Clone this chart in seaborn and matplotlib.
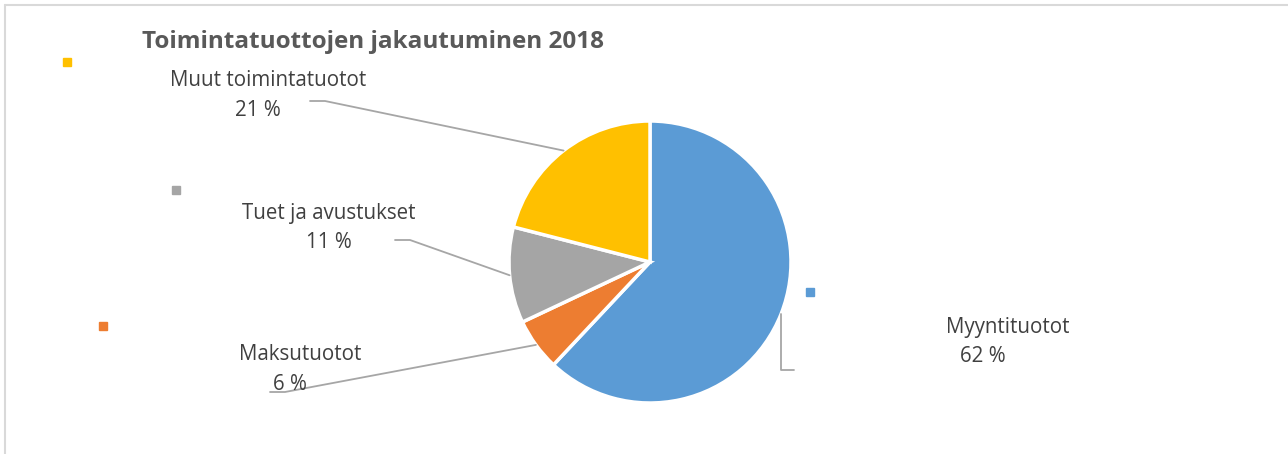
import numpy as np
import seaborn as sns
import matplotlib.pyplot as plt

# data
categories = ["Myyntituotot", "Maksutuotot", "Tuet ja avustukset", "Muut toimintatuotot"]
shares = [62, 6, 11, 21]
colors = ["#5B9BD5", "#ED7D31", "#A5A5A5", "#FFC000"]
title = "Toimintatuottojen jakautuminen 2018"

sns.set_style("white")
plt.rcParams['font.family'] = ['Open Sans', 'DejaVu Sans']

W, H = 1288, 454
fig = plt.figure(figsize=(W / 100, H / 100), dpi=100)
ax = fig.add_axes([0, 0, 1, 1])

def Y(y):
    # pixel row -> data y
    return H - y

cx, cy, r = 650, Y(262), 141
wedges, _ = ax.pie(shares, colors=colors, startangle=90, counterclock=False,
                   center=(cx, cy), radius=r,
                   wedgeprops=dict(edgecolor="white", linewidth=2.5))
ax.set_xlim(0, W)
ax.set_ylim(0, H)
ax.set_aspect("equal")
ax.axis("off")

# name centre, value centre, legend square, leader start (pixels)
name_pos = {
    "Myyntituotot": (1008, 328),
    "Maksutuotot": (300, 355),
    "Tuet ja avustukset": (329, 214),
    "Muut toimintatuotot": (268, 81),
}
value_pos = {
    "Myyntituotot": (983, 357),
    "Maksutuotot": (290, 384),
    "Tuet ja avustukset": (329, 243),
    "Muut toimintatuotot": (258, 111),
}
square_pos = {
    "Myyntituotot": (810, 292),
    "Maksutuotot": (103, 326),
    "Tuet ja avustukset": (176, 190),
    "Muut toimintatuotot": (67, 62),
}
line_start = {
    "Maksutuotot": (270, 392),
    "Tuet ja avustukset": (395, 240),
    "Muut toimintatuotot": (310, 101),
}

lc = "#A6A6A6"
for w, name, val, col in zip(wedges, categories, shares, colors):
    mid = np.deg2rad((w.theta1 + w.theta2) / 2)
    ex, ey = cx + r * np.cos(mid), cy + r * np.sin(mid)
    nx, ny = name_pos[name]
    vx, vy = value_pos[name]
    ax.text(nx, Y(ny), name, ha="center", va="center", fontsize=14.8, color="#404040")
    ax.text(vx, Y(vy), f"{val} %", ha="center", va="center", fontsize=14.8, color="#404040")
    sx, sy = square_pos[name]
    ax.plot(sx, Y(sy), marker="s", ms=5.5, color=col, ls="none")
    if name == "Myyntituotot":
        ax.plot([ex, ex, ex + 13], [ey, Y(370), Y(370)], color=lc, lw=1.3)
    else:
        lx, ly = line_start[name]
        ax.plot([lx, lx + 15, ex], [Y(ly), Y(ly), ey], color=lc, lw=1.3)

ax.text(142, Y(42), title, ha="left", va="center", fontsize=17.5,
        fontweight="bold", color="#595959")

# chart frame (top and left visible)
ax.plot([5, W], [Y(5), Y(5)], color="#D9D9D9", lw=1.5, clip_on=False)
ax.plot([5, 5], [Y(5), 0], color="#D9D9D9", lw=1.5, clip_on=False)

fig.savefig("out.png", dpi=100)
